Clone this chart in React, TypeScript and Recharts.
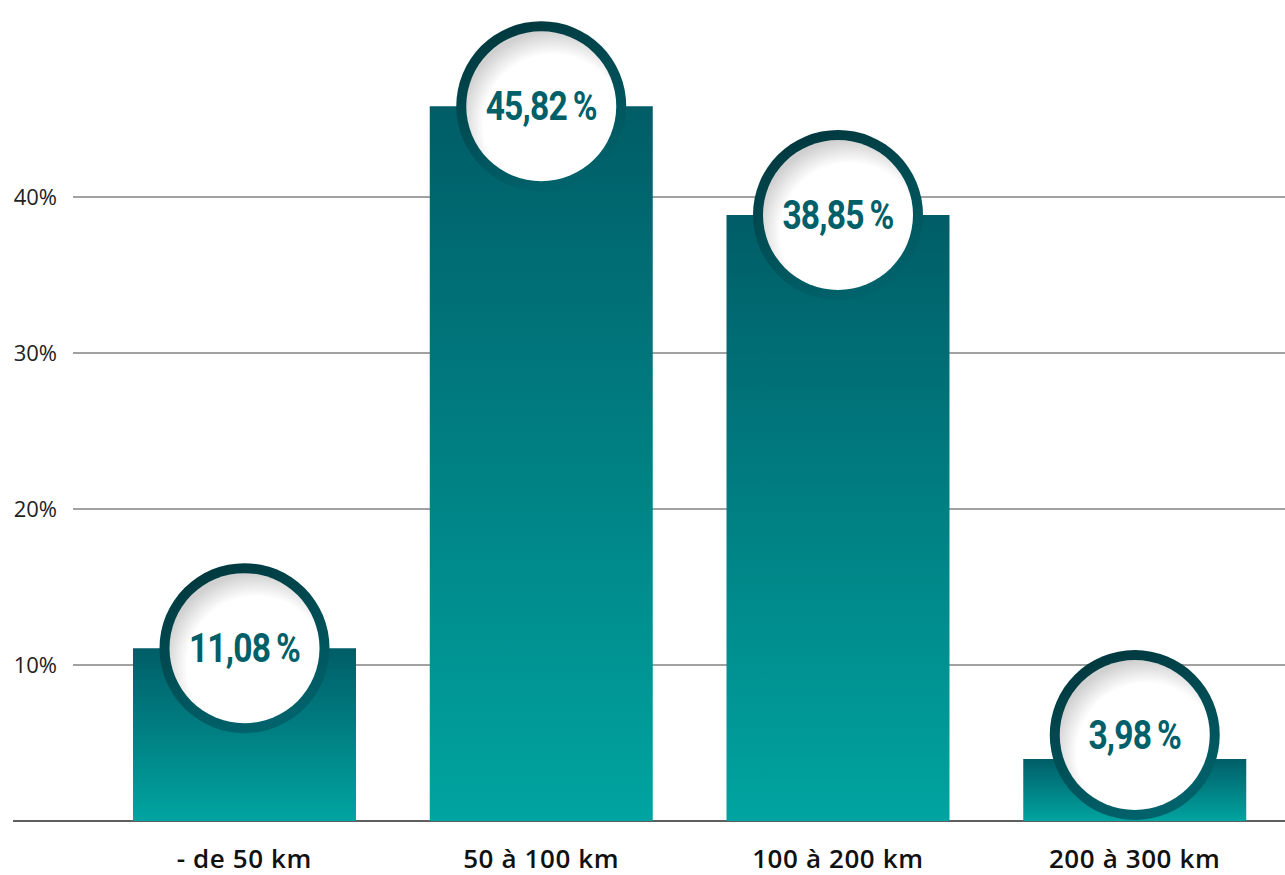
import * as React from 'react';
import { BarChart, Bar, XAxis, YAxis, CartesianGrid, LabelList } from 'recharts';

const categories = ['- de 50 km', '50 à 100 km', '100 à 200 km', '200 à 300 km'];
const shares = [11.08, 45.82, 38.85, 3.98];
const yTicks = [0, 10, 20, 30, 40];

const data = categories.map((name, i) => ({ name, share: shares[i] }));

const BASELINE = 821;
const RING_R = 85;
const INNER_R = 75;

// horizontal grid; the 0 line doubles as the x axis and runs further left
const GridLine = (props: any) => {
  const { x1, x2, y1, y2 } = props;
  if (y1 < 60) return <g />;
  const isBase = Math.abs(y1 - BASELINE) < 2;
  return (
    <line
      x1={isBase ? 13 : x1}
      x2={x2}
      y1={y1}
      y2={y2}
      stroke={isBase ? '#2a2a2a' : '#444'}
      strokeWidth={isBase ? 1.6 : 1}
    />
  );
};

const Badge = (props: any) => {
  const { x, y, width, value } = props;
  const cx = x + width / 2;
  const cy = Math.min(y, BASELINE - RING_R - 1);
  const text = Number(value).toFixed(2).replace('.', ',') + '\u2009%';
  return (
    <g>
      <circle cx={cx} cy={cy} r={RING_R} fill="url(#ringFill)" />
      <circle cx={cx} cy={cy} r={INNER_R} fill="url(#innerFill)" />
      <g transform={`translate(${cx}, ${cy}) scale(0.84, 1)`}>
        <text
          x={0}
          y={14}
          textAnchor="middle"
          fill="#005f69"
          fontFamily="Roboto, sans-serif"
          fontWeight={700}
          fontSize={40}
          letterSpacing={-1}
        >
          {text}
        </text>
      </g>
    </g>
  );
};

export default function App() {
  return (
    <div style={{ position: 'absolute', left: 0, top: 0, width: 1285, height: 875, background: '#fff' }}>
      <BarChart width={1285} height={875} data={data} margin={{ top: 41, right: 0, bottom: 0, left: 0 }}>
        <defs>
          <linearGradient id="barFill" x1="0" y1="0" x2="0" y2="1">
            <stop offset="0%" stopColor="#005d67" />
            <stop offset="100%" stopColor="#00a4a0" />
          </linearGradient>
          <linearGradient id="ringFill" x1="0.2" y1="0" x2="0.6" y2="1">
            <stop offset="0%" stopColor="#00363c" />
            <stop offset="100%" stopColor="#00646d" />
          </linearGradient>
          <radialGradient id="innerFill" cx="0.58" cy="0.62" r="0.62">
            <stop offset="75%" stopColor="#ffffff" />
            <stop offset="100%" stopColor="#d0d0d0" />
          </radialGradient>
        </defs>
        <CartesianGrid vertical={false} horizontal={GridLine} />
        <XAxis
          dataKey="name"
          height={54}
          axisLine={false}
          tickLine={false}
          tickSize={0}
          tickMargin={29}
          padding={{ left: 23, right: 2 }}
          tick={{ fill: '#111', fontSize: 26, fontWeight: 600, letterSpacing: 0.6, fontFamily: '"Open Sans", sans-serif' }}
        />
        <YAxis
          width={73}
          domain={[0, 50]}
          ticks={yTicks}
          axisLine={false}
          tickLine={false}
          tickSize={0}
          tickMargin={16}
          tickFormatter={(v: number) => (v === 0 ? '' : `${v}%`)}
          tick={{ fill: '#222', fontSize: 22, fontWeight: 400, fontFamily: '"Open Sans", sans-serif' }}
        />
        <Bar dataKey="share" fill="url(#barFill)" barSize={223} isAnimationActive={false}>
          <LabelList dataKey="share" content={Badge} />
        </Bar>
      </BarChart>
    </div>
  );
}
